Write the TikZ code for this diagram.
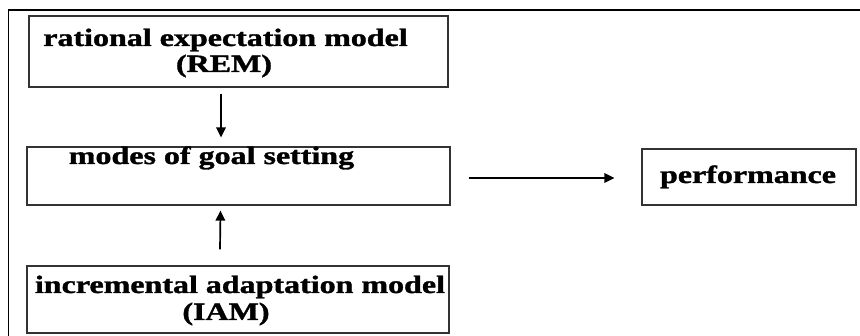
\documentclass[tikz,border=0pt]{standalone}
\usepackage{fontspec}
\usepackage{graphicx}
\setmainfont{Liberation Serif}[BoldFeatures={FakeBold=1.2}]
\usetikzlibrary{arrows.meta}
\newcommand\strx[1]{\scalebox{1.28}[1]{#1}}
\begin{document}
\begin{tikzpicture}[x=1pt,y=-1pt,
  box/.style={draw=black!80, line width=1.3pt, inner sep=0pt, rectangle},
  lbl/.style={inner sep=0pt, anchor=base, font=\fontsize{25}{28}\selectfont\bfseries},
  arr/.style={draw=black, line width=1.7pt, -{Triangle[length=10pt,width=9.5pt]}},
  frame/.style={draw=black, line width=1.4pt}]
\useasboundingbox (0,0) rectangle (860,336);
\fill[white] (0,0) rectangle (860,336);
% outer frame (cut off at right and bottom)
\draw[frame] (8.5,336) -- (8.5,10) -- (860,10);
% boxes
\node[box, minimum width=419pt, minimum height=71pt] (rem) at (238.5,51.5) {};
\node[box, minimum width=423pt, minimum height=58pt] (modes) at (238.5,176) {};
\node[box, minimum width=422pt, minimum height=67pt] (iam) at (238,299.5) {};
\node[box, minimum width=214pt, minimum height=56pt] (perf) at (749,177) {};
% texts
\node[lbl] (remA) at (225.5,46) {\strx{rational expectation model}};
\node[lbl] (remB) at (224,72) {\strx{(REM)}};
\node[lbl] (modesT) at (211.5,164) {\strx{modes of goal setting}};
\node[lbl] (iamA) at (240,293) {\strx{incremental adaptation model}};
\node[lbl] (iamB) at (226,320) {\strx{(IAM)}};
\node[lbl] (perfT) at (748,183) {\strx{performance}};
% connectors
\draw[arr] ([xshift=-17.5pt,yshift=-6pt]rem.south) -- ([xshift=-17.5pt,yshift=9pt]modes.north);
\draw[arr] ([xshift=-18pt,yshift=16pt]iam.north) -- ([xshift=-18pt,yshift=-5pt]modes.south);
\draw[arr] ([xshift=18pt,yshift=-2pt]modes.east) -- ([xshift=-27pt,yshift=-1pt]perf.west);
\end{tikzpicture}
\end{document}
